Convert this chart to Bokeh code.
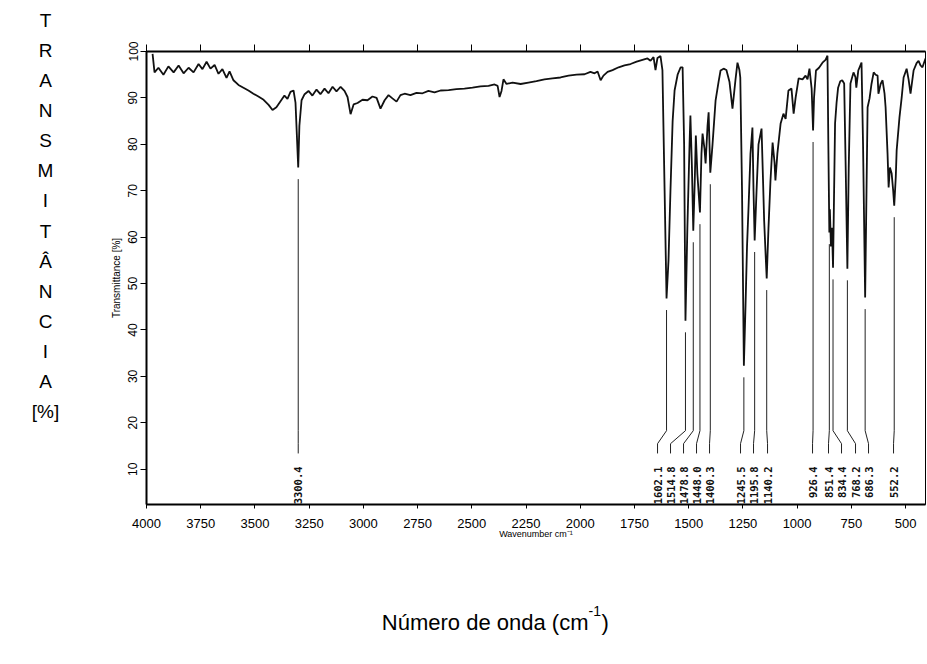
import math
from bokeh.plotting import figure
from bokeh.layouts import row, column
from bokeh.models import Range1d, FixedTicker, LinearAxis, ColumnDataSource
from bokeh.core.properties import value
from bokeh.embed import file_html
from bokeh.resources import INLINE

# ---------------- data ----------------
wavenumber = [3972, 3963, 3945, 3922, 3899, 3875, 3852, 3829, 3806, 3783, 3760, 3742, 3723, 3705, 3686,
              3668, 3650, 3631, 3617, 3599, 3576, 3553, 3530, 3507, 3484, 3460, 3437, 3419, 3401, 3382,
              3364, 3350, 3336, 3322, 3313, 3300.4, 3295, 3285, 3271, 3253, 3235, 3216, 3198, 3179, 3161,
              3142, 3124, 3105, 3087, 3073, 3059, 3045, 3027, 3004, 2981, 2958, 2939, 2921, 2902, 2884,
              2866, 2847, 2829, 2810, 2783, 2755, 2727, 2700, 2672, 2644, 2607, 2571, 2534, 2497, 2460,
              2423, 2395, 2381, 2372, 2363, 2354, 2340, 2312, 2275, 2239, 2202, 2165, 2128, 2091, 2054,
              2017, 1980, 1953, 1934, 1920, 1906, 1893, 1874, 1851, 1823, 1796, 1768, 1740, 1713, 1690,
              1676, 1662, 1653, 1644, 1630, 1621, 1611, 1602.1, 1593, 1584, 1574, 1565, 1551, 1537, 1528,
              1521, 1514.8, 1506, 1496, 1492, 1485, 1478.8, 1472, 1467, 1460, 1448.0, 1441, 1436, 1427,
              1422, 1413, 1408, 1404, 1400.3, 1390, 1376, 1362, 1353, 1339, 1326, 1312, 1298, 1284, 1275,
              1266, 1262, 1254, 1245.5, 1238, 1231, 1224, 1215, 1206, 1201, 1195.8, 1187, 1178, 1164,
              1157, 1152, 1145, 1140.2, 1132, 1123, 1113, 1104, 1100, 1091, 1076, 1063, 1053, 1040, 1026,
              1016, 1007, 993, 975, 961, 952, 943, 933, 926.4, 922, 913, 899, 883, 869, 860, 856, 851.4,
              849, 844, 839, 834.4, 830, 825, 818, 811, 801, 792, 783, 776, 768.2, 762, 754, 740, 731,
              727, 718, 703, 696, 686.3, 680, 675, 666, 657, 647, 638, 629, 625, 615, 606, 597, 592, 583,
              578, 572, 564, 557, 552.2, 545, 541, 528, 518, 509, 495, 486, 477, 463, 449, 440, 431, 422,
              408, 399]
transmittance = [99.5, 95.5, 96.5, 95.0, 96.8, 95.5, 97.0, 95.3, 96.5, 95.5, 97.3, 96.2, 97.8, 96.3, 97.1,
                 95.2, 96.2, 94.3, 95.7, 93.8, 92.8, 92.2, 91.6, 90.9, 90.3, 89.6, 88.5, 87.4, 88.0, 89.3,
                 90.5, 89.8, 91.3, 91.6, 89.0, 75.0, 84.0, 89.5, 90.8, 91.5, 90.5, 91.8, 90.8, 92.0, 91.0,
                 92.4, 91.4, 92.4, 91.5, 90.2, 86.5, 88.6, 88.9, 89.6, 89.5, 90.3, 90.0, 87.7, 89.5, 90.6,
                 89.9, 89.2, 90.6, 90.9, 90.6, 91.1, 91.0, 91.5, 91.2, 91.6, 91.7, 91.9, 92.0, 92.2, 92.5,
                 92.6, 92.9, 92.6, 90.2, 91.5, 94.0, 93.0, 93.3, 93.0, 93.3, 93.6, 94.0, 94.2, 94.4, 94.8,
                 95.0, 95.1, 95.6, 95.3, 95.7, 93.8, 94.8, 95.6, 96.0, 96.6, 97.0, 97.3, 97.8, 98.2, 98.5,
                 98.0, 98.8, 96.0, 98.6, 99.0, 96.0, 70.0, 46.8, 55.0, 70.0, 85.0, 91.6, 95.0, 96.6, 96.6,
                 80.0, 42.0, 62.0, 80.0, 86.2, 75.0, 61.4, 72.0, 81.9, 73.7, 65.3, 78.0, 82.3, 79.0,
                 75.9, 84.0, 86.9, 80.0, 73.9, 80.0, 89.4, 93.5, 95.9, 96.3, 96.0, 93.5, 87.7, 94.0, 97.6,
                 96.0, 94.4, 70.0, 32.3, 45.0, 58.0, 66.4, 78.0, 83.6, 70.0, 59.3, 70.0, 80.0, 83.4,
                 72.0, 63.6, 56.0, 51.1, 62.0, 72.0, 80.4, 76.0, 72.2, 78.0, 84.5, 86.6, 85.5, 91.6, 92.0,
                 86.6, 90.0, 94.2, 94.0, 94.8, 94.0, 96.3, 92.0, 83.0, 90.0, 95.9, 96.5, 97.6, 98.2, 99.1, 80.0, 61.0,
                 66.0, 58.0, 62.0, 53.4, 68.0, 84.5, 89.0, 92.2, 93.6, 93.8, 93.1, 75.0, 53.2, 75.0, 93.1, 95.5, 94.5,
                 92.2, 95.9, 97.6, 80.0, 47.0, 70.0, 88.0, 89.9, 93.0, 95.5, 95.0, 94.8, 90.9, 93.0, 93.8, 91.0, 88.0, 78.0,
                 70.7, 75.0, 73.7, 70.0, 66.8, 73.0, 78.7, 85.8, 90.0, 94.4, 96.3, 94.0, 90.9, 95.9, 97.5, 98.0, 97.0, 96.6,
                 98.5, 97.5]

peak_labels = ["3300.4", "1602.1", "1514.8", "1478.8", "1448.0", "1400.3", "1245.5", "1195.8",
               "1140.2", "926.4", "851.4", "834.4", "768.2", "686.3", "552.2"]
peak_wn = [3300.4, 1602.1, 1514.8, 1478.8, 1448.0, 1400.3, 1245.5, 1195.8,
           1140.2, 926.4, 851.4, 834.4, 768.2, 686.3, 552.2]
peak_T = [75.0, 46.8, 42.0, 61.4, 65.3, 73.9, 32.3, 59.3,
          51.1, 83.0, 61.0, 53.4, 53.2, 47.0, 66.8]
# wavenumber of the printed label column
label_wn = [3300.4, 1643.6, 1583.7, 1523.7, 1463.8, 1403.8, 1260.9, 1201.0,
            1136.4, 928.9, 855.2, 795.2, 730.7, 670.7, 555.4]

x_ticks = [4000, 3750, 3500, 3250, 3000, 2750, 2500, 2250, 2000, 1750, 1500, 1250, 1000, 750, 500]
y_ticks = [10, 20, 30, 40, 50, 60, 70, 80, 90, 100]

outer_y_letters = ["T", "R", "A", "N", "S", "M", "I", "T", "Â", "N", "C", "I", "A", "[%]"]

# ---------------- layout sizes ----------------
LW = 100                 # width of left strip holding the stacked letters
W, H = 826, 560          # main spectrum figure
ML, MR, MT, MB = 46, 1, 51, 56
BH = 100                 # bottom strip height
X0, X1 = 4000, 408
Y0, Y1 = 2.4, 100


def bare(width, height, xr, yr):
    f = figure(width=width, height=height, output_backend="svg", toolbar_location=None,
               x_range=xr, y_range=yr, min_border=0,
               min_border_left=0, min_border_right=0, min_border_top=0, min_border_bottom=0,
               x_axis_location=None, y_axis_location=None)
    f.grid.visible = False
    f.outline_line_color = None
    f.background_fill_color = "white"
    f.border_fill_color = "white"
    f.frame_align = False
    return f


# ---------------- main figure ----------------
p = figure(width=W, height=H, output_backend="svg", toolbar_location=None,
           x_range=Range1d(X0, X1), y_range=Range1d(Y0, Y1),
           min_border_left=ML, min_border_right=MR, min_border_top=MT, min_border_bottom=MB,
           x_axis_location=None, y_axis_location=None)
p.grid.visible = False
p.outline_line_color = "black"
p.outline_line_width = 1
p.background_fill_color = "white"
p.border_fill_color = "white"
p.frame_align = False

xb = LinearAxis(ticker=FixedTicker(ticks=x_ticks))
xb.axis_line_width = 2
xb.major_tick_out = 4
xb.major_tick_in = 0
xb.minor_tick_out = 0
xb.minor_tick_in = 0
xb.major_label_text_font = "Liberation Sans"
xb.major_label_text_font_size = "13px"
xb.major_label_text_color = "black"
xb.major_label_standoff = 10
xb.axis_label = "Wavenumber cm\u207b\u00b9"
xb.axis_label_text_font = "Liberation Sans"
xb.axis_label_text_font_style = "normal"
xb.axis_label_text_font_size = "9px"
xb.axis_label_text_color = "black"
xb.axis_label_standoff = -2
p.add_layout(xb, "below")

xt = LinearAxis(ticker=FixedTicker(ticks=x_ticks))
xt.axis_line_width = 2
xt.major_tick_out = 7
xt.major_tick_in = 0
xt.minor_tick_out = 0
xt.minor_tick_in = 0
xt.major_label_text_font_size = "1px"
xt.major_label_text_alpha = 0
p.add_layout(xt, "above")

yl = LinearAxis(ticker=FixedTicker(ticks=y_ticks))
yl.axis_line_width = 2
yl.major_tick_out = 6
yl.major_tick_in = 0
yl.minor_tick_out = 0
yl.minor_tick_in = 0
yl.major_label_orientation = "vertical"
yl.major_label_text_font = "Liberation Sans"
yl.major_label_text_font_size = "12px"
yl.major_label_text_color = "black"
yl.major_label_standoff = 3
yl.axis_label = "Transmittance [%]"
yl.axis_label_text_font = "Liberation Sans"
yl.axis_label_text_font_style = "normal"
yl.axis_label_text_font_size = "10px"
yl.axis_label_text_color = "black"
yl.axis_label_standoff = 4
p.add_layout(yl, "left")

# spectrum
p.line(wavenumber, transmittance, line_color="#111111", line_width=1.8)

# peak annotation connectors
L_TOP, L_BEND, L_FOOT, L_TEXT = 18.3, 15.5, 13.4, 10.6
xs = [[w, w, lw, lw] for w, lw in zip(peak_wn, label_wn)]
ys = [[t - 2.5, L_TOP, L_BEND, L_FOOT] for t in peak_T]
p.multi_line(xs, ys, line_color="#222222", line_width=1)

src = ColumnDataSource(dict(x=label_wn, y=[L_TEXT] * len(label_wn), t=peak_labels))
p.text(x="x", y="y", text="t", source=src, angle=math.pi / 2,
       text_align="right", text_baseline="middle",
       text_font=value("DejaVu Sans Mono"), text_font_size="10.5px",
       text_font_style="bold", text_color="#111111")

# ---------------- left strip: stacked vertical title ----------------
left = bare(LW, H, Range1d(0, LW), Range1d(H, 0))
n = len(outer_y_letters)
left_src = ColumnDataSource(dict(
    x=[45] * n,
    y=[20 + i * (411 - 20) / (n - 1) for i in range(n)],
    t=outer_y_letters))
left.text(x="x", y="y", text="t", source=left_src, text_align="center", text_baseline="middle",
          text_font=value("Liberation Sans"), text_font_size="19px", text_color="black")

# ---------------- bottom strip: x title ----------------
bottom = bare(LW + W, BH, Range1d(0, LW + W), Range1d(H + BH, H))
bottom.text(x=[588], y=[622], text=["Número de onda (cm"], text_align="right", text_baseline="middle",
            text_font=value("Liberation Sans"), text_font_size="22px", text_color="black")
bottom.text(x=[588], y=[610], text=["-1"], text_align="left", text_baseline="middle",
            text_font=value("Liberation Sans"), text_font_size="14px", text_color="black")
bottom.text(x=[601], y=[622], text=[")"], text_align="left", text_baseline="middle",
            text_font=value("Liberation Sans"), text_font_size="22px", text_color="black")

layout = column(row(left, p, spacing=0), bottom, spacing=0)
open("out.html", "w").write(file_html(layout, INLINE))
